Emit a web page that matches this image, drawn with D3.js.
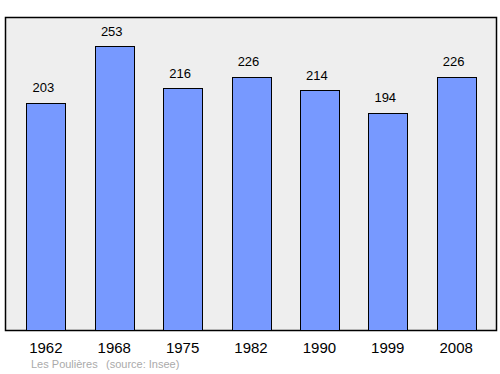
<!DOCTYPE html>
<html lang="fr">
<head>
<meta charset="UTF-8">
<title>Les Poulières</title>
<script src="https://d3js.org/d3.v7.min.js"></script>
<style>
  * { margin: 0; padding: 0; }
  body { background: #fff; }
  text { font-family: "Liberation Sans", Arial, sans-serif; }
</style>
</head>
<body>
<script>
    var years = ["1962", "1968", "1975", "1982", "1990", "1999", "2008"];
    var population = [203, 253, 216, 226, 214, 194, 226];
    var commune = "Les Poulières";
    var source = "(source: Insee)";

    var width = 500,
        height = 374;

    var svg = d3.select("body")
                .append("svg")
                .attr("width", width)
                .attr("height", height);

    // plot frame
    var frame = {left: 5.5, top: 17.5, right: 496.5, bottom: 330.5};

    var x = d3.scaleBand()
              .domain(years)
              .range([12, 490])
              .paddingInner(0.43)
              .paddingOuter(0.21);

    var y = d3.scaleLinear()
              .domain([0, 278.8])
              .range([frame.bottom, frame.top]);

    svg.append("rect")
       .attr("x", frame.left)
       .attr("y", frame.top)
       .attr("width", frame.right - frame.left)
       .attr("height", frame.bottom - frame.top)
       .style("fill", "#eeeeee")
       .style("stroke", "#000")
       .style("stroke-width", 1.5);

    var data = years.map(function(d, i) { return {year: d, value: population[i]}; });

    svg.selectAll("rect.bar")
       .data(data)
       .enter()
       .append("rect")
       .attr("class", "bar")
       .attr("x", function(d) { return Math.round(x(d.year)) + 0.5; })
       .attr("y", function(d) { return Math.round(y(d.value)) + 0.5; })
       .attr("width", Math.round(x.bandwidth()))
       .attr("height", function(d) { return frame.bottom - Math.round(y(d.value)) - 0.5; })
       .style("fill", "#7799ff")
       .style("stroke", "#000")
       .style("stroke-width", 1);

    // value labels sit a little left of the bar centre in the original
    svg.selectAll("text.value")
       .data(data)
       .enter()
       .append("text")
       .attr("class", "value")
       .attr("x", function(d) { return x(d.year) + x.bandwidth() / 2 - 2.5; })
       .attr("y", function(d) { return y(d.value) - 10.5; })
       .attr("text-anchor", "middle")
       .style("font-size", "13px")
       .text(function(d) { return d.value; });

    var xAxis = d3.axisBottom(x).tickSize(0).tickPadding(11.5);
    var g = svg.append("g")
       .attr("transform", "translate(0," + frame.bottom + ")")
       .call(xAxis);
    g.select(".domain").remove();
    g.selectAll("text")
     .style("font-size", "15px")
     .style("font-family", "'Liberation Sans', Arial, sans-serif")
     .attr("fill", "#000");

    svg.append("text")
       .attr("x", 31)
       .attr("y", 368)
       .style("font-size", "11px")
       .style("fill", "#aaaaaa")
       .text(commune);

    svg.append("text")
       .attr("x", 106)
       .attr("y", 368)
       .style("font-size", "11px")
       .style("fill", "#aaaaaa")
       .text(source);
</script>
</body>
</html>
